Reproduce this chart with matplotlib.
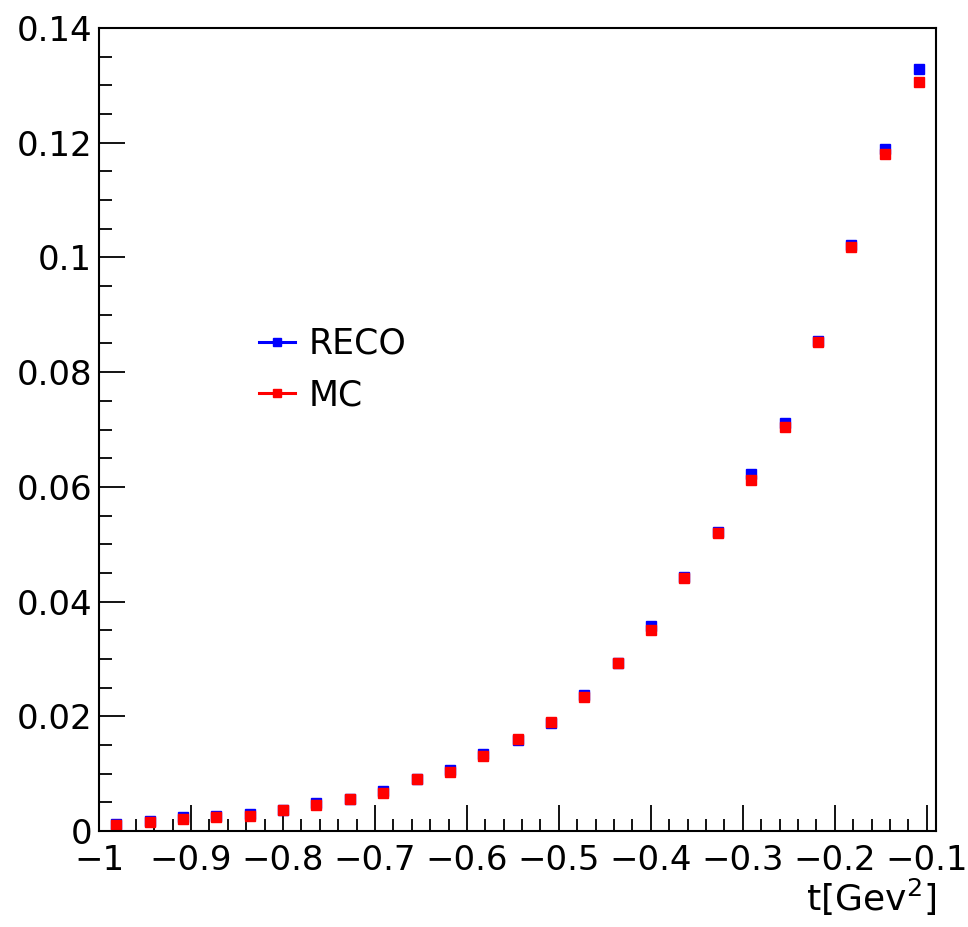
import matplotlib
matplotlib.use("Agg")
import matplotlib.pyplot as plt
from matplotlib.ticker import MultipleLocator

plt.rcParams['font.family'] = ['DejaVu Sans']

# bin centres in t [GeV^2]
t_vals = [-0.982, -0.945, -0.909, -0.873, -0.836, -0.800, -0.764, -0.727,
          -0.691, -0.654, -0.618, -0.582, -0.545, -0.509, -0.473, -0.436,
          -0.400, -0.364, -0.327, -0.291, -0.254, -0.218, -0.182, -0.145,
          -0.109]

reco = [0.00122, 0.00180, 0.00239, 0.00267, 0.00297, 0.00366, 0.00483,
        0.00553, 0.00703, 0.00912, 0.01064, 0.01343, 0.01587, 0.01889,
        0.02372, 0.02925, 0.03575, 0.04425, 0.05215, 0.06226, 0.07111,
        0.08551, 0.10220, 0.11890, 0.13290]

mc = [0.00105, 0.00162, 0.00204, 0.00239, 0.00267, 0.00366, 0.00453,
      0.00553, 0.00668, 0.00912, 0.01029, 0.01308, 0.01599, 0.01901,
      0.02342, 0.02925, 0.03506, 0.04407, 0.05197, 0.06122, 0.07041,
      0.08529, 0.10180, 0.11808, 0.13058]

x_ticks = [-1.0, -0.9, -0.8, -0.7, -0.6, -0.5, -0.4, -0.3, -0.2, -0.1]
x_labels = ['\u22121', '\u22120.9', '\u22120.8', '\u22120.7', '\u22120.6',
            '\u22120.5', '\u22120.4', '\u22120.3', '\u22120.2', '\u22120.1']
y_ticks = [0, 0.02, 0.04, 0.06, 0.08, 0.10, 0.12, 0.14]
y_labels = ['0', '0.02', '0.04', '0.06', '0.08', '0.1', '0.12', '0.14']

fig = plt.figure(figsize=(9.68, 9.27), dpi=100)
ax = fig.add_axes([99 / 968, 1 - 831 / 927, (936 - 99) / 968, (831 - 28) / 927])

# series (sin linea, solo marcadores)
ax.plot(t_vals, reco, linestyle='none', marker='s', markersize=7.5,
        color='#0000ff', label='RECO')
ax.plot(t_vals, mc, linestyle='none', marker='s', markersize=6.8,
        color='#ff0000', label='MC')

ax.set_xlim(-1.0, -0.09)
ax.set_ylim(0, 0.14)

ax.set_xticks(x_ticks)
ax.set_xticklabels(x_labels)
ax.set_yticks(y_ticks)
ax.set_yticklabels(y_labels)
ax.xaxis.set_minor_locator(MultipleLocator(0.02))
ax.yaxis.set_minor_locator(MultipleLocator(0.005))

ax.tick_params(which='both', direction='in', top=False, right=False,
               width=1.3, labelsize=24.5)
ax.tick_params(which='major', length=18.5)
ax.tick_params(which='minor', length=9)
ax.tick_params(axis='x', pad=9)
ax.tick_params(axis='y', pad=5)

for s in ax.spines.values():
    s.set_linewidth(1.5)

ax.set_xlabel('t[Gev$^{2}$]', fontsize=26, loc='right', labelpad=0)

# leyenda sin marco (estilo ROOT: linea + marcador)
h1, = ax.plot([], [], color='#0000ff', linewidth=2.2, marker='s', markersize=6)
h2, = ax.plot([], [], color='#ff0000', linewidth=2.2, marker='s', markersize=5.5)
leg = ax.legend([h1, h2], ['RECO', 'MC'], loc='upper left',
                bbox_to_anchor=(0.174, 0.645), frameon=False, fontsize=25,
                handlelength=1.05, handletextpad=0.38, labelspacing=0.5,
                borderaxespad=0)

fig.savefig('out.png', dpi=100)
